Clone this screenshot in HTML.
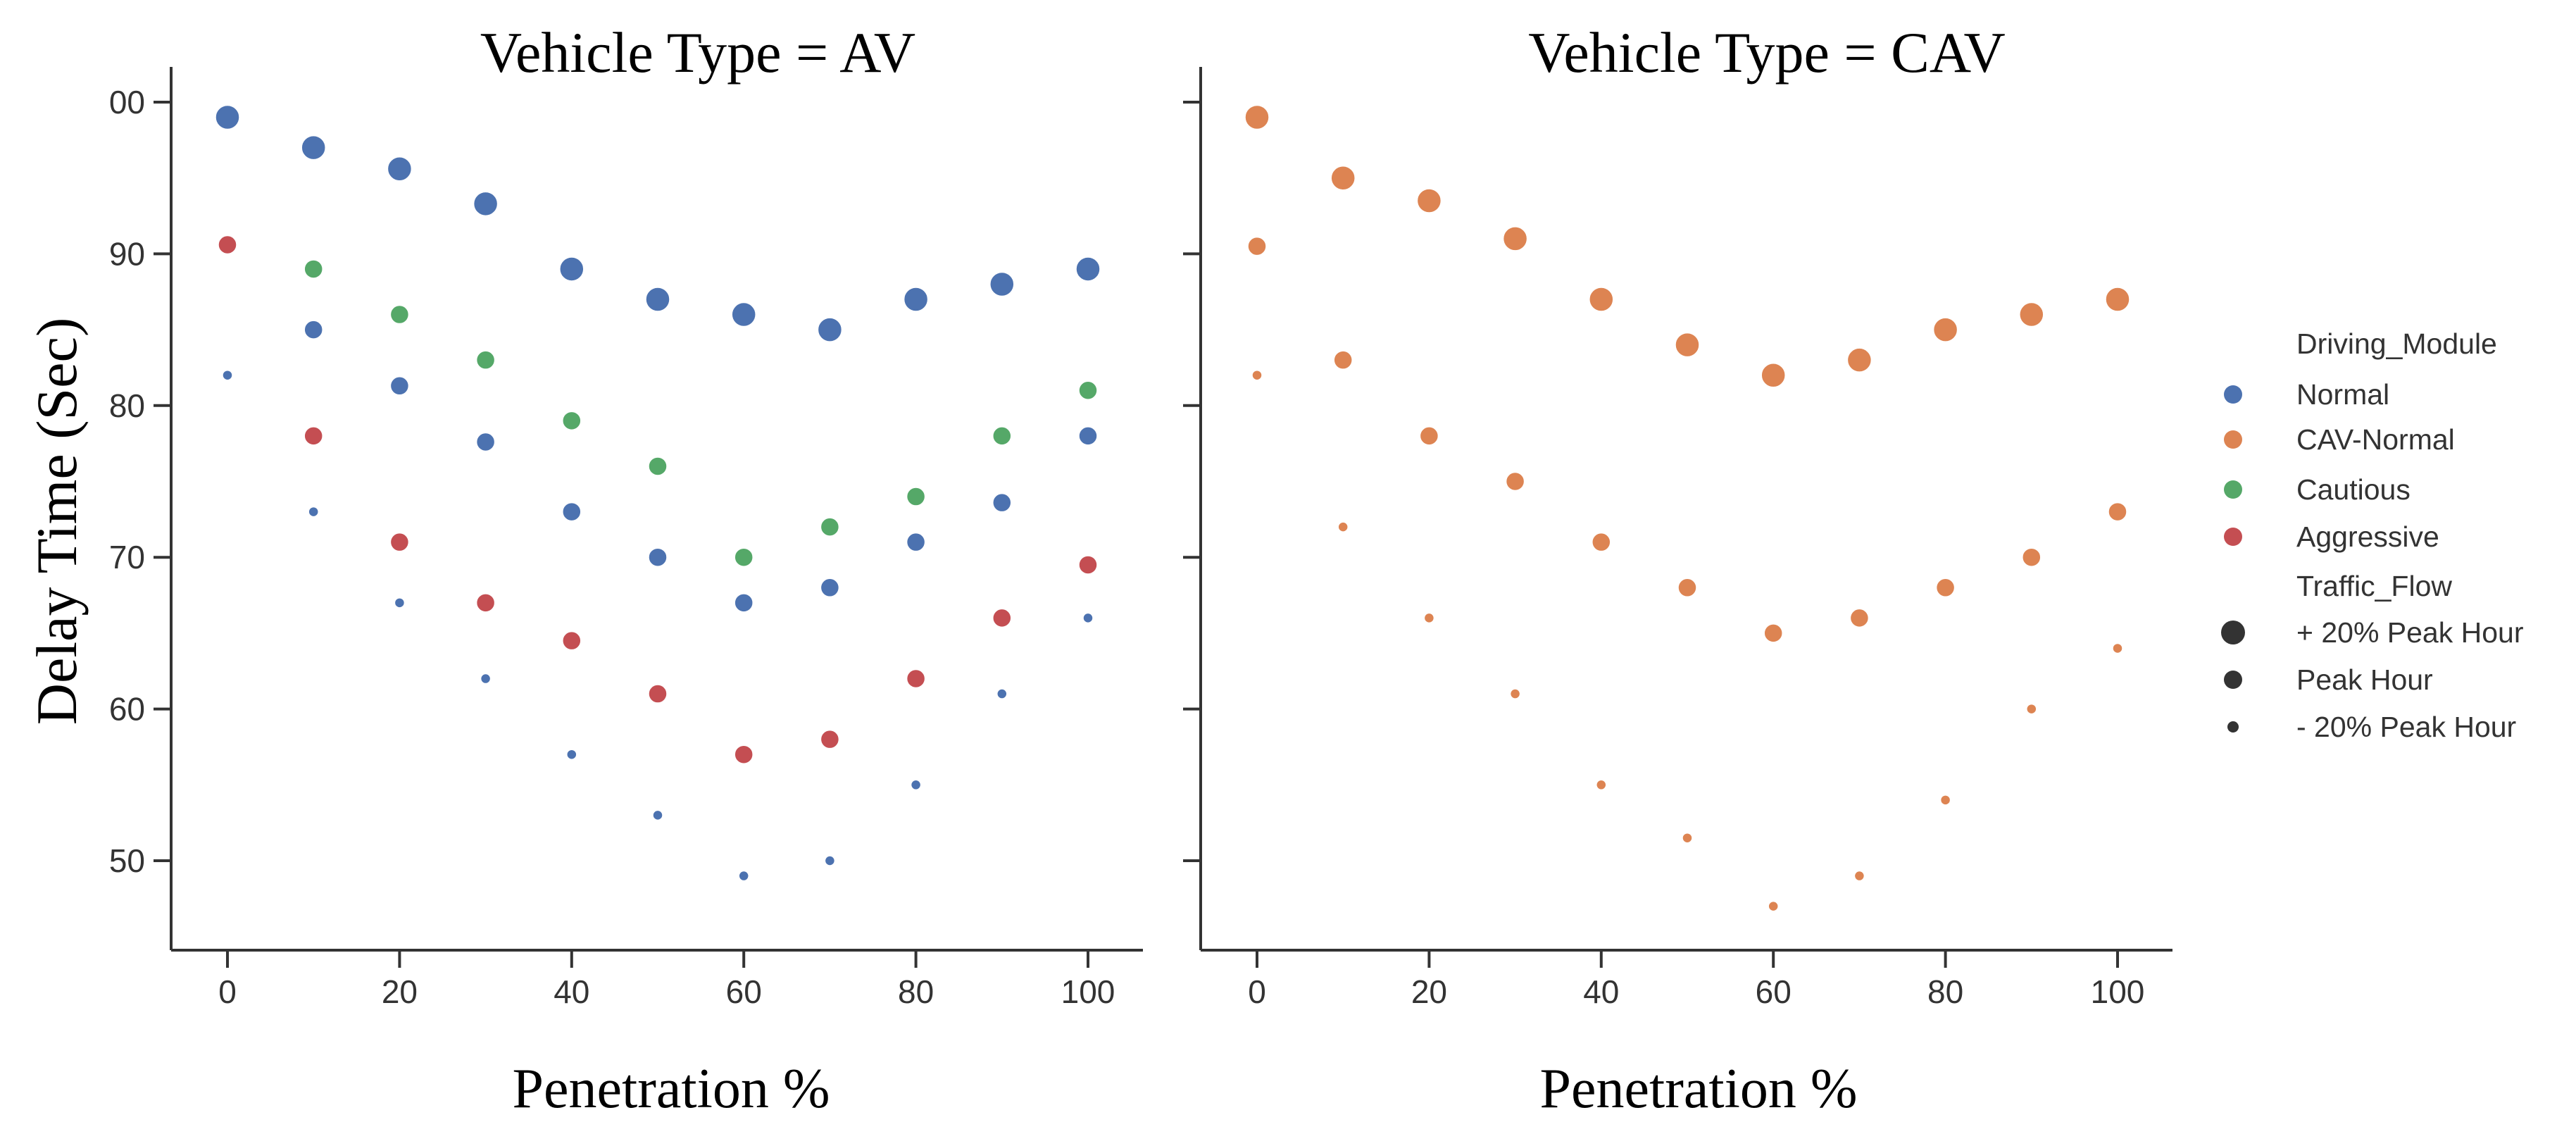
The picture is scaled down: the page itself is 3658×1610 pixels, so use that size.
<!DOCTYPE html>
<html><head><meta charset="utf-8"><style>
html,body{margin:0;padding:0;background:#fff}
svg{display:block}
</style></head><body>
<svg id="chart" width="3658" height="1610" viewBox="0 0 3658 1610">
<g id="axes"></g>
<g id="marks"></g>
<text x="991" y="102" font-family="Liberation Serif, serif" font-size="82" text-anchor="middle" fill="#000">Vehicle Type = AV</text>
<text x="2509" y="102" font-family="Liberation Serif, serif" font-size="82" text-anchor="middle" fill="#000">Vehicle Type = CAV</text>
<text x="953" y="1572" font-family="Liberation Serif, serif" font-size="80" text-anchor="middle" fill="#000">Penetration %</text>
<text x="2412" y="1572" font-family="Liberation Serif, serif" font-size="80" text-anchor="middle" fill="#000">Penetration %</text>
<text transform="translate(108,740) rotate(-90)" font-family="Liberation Serif, serif" font-size="82" text-anchor="middle" fill="#000">Delay Time (Sec)</text>
<g id="legend" font-family="Liberation Sans, sans-serif" font-size="41" fill="#333"></g>
</svg>
<script>
const xVals = [0,10,20,30,40,50,60,70,80,90,100];
const xTicks = [0,20,40,60,80,100];
const yTicks = [50,60,70,80,90,100];
const yTickLabels = ["50","60","70","80","90","00"];
// AV panel
const avNormalPlus = [99,97,95.6,93.3,89,87,86,85,87,88,89];
const avNormalPeakX = [10,20,30,40,50,60,70,80,90,100];
const avNormalPeak = [85,81.3,77.6,73,70,67,68,71,73.6,78];
const avNormalMinus = [82,73,67,62,57,53,49,50,55,61,66];
const avCautiousX = [10,20,30,40,50,60,70,80,90,100];
const avCautious = [89,86,83,79,76,70,72,74,78,81];
const avAggressive = [90.6,78,71,67,64.5,61,57,58,62,66,69.5];
// CAV panel
const cavPlus = [99,95,93.5,91,87,84,82,83,85,86,87];
const cavPeak = [90.5,83,78,75,71,68,65,66,68,70,73];
const cavMinus = [82,72,66,61,55,51.5,47,49,54,60,64];

const NS="http://www.w3.org/2000/svg";
const colors={normal:"#4c72b0",cav:"#dd8452",cautious:"#55a868",aggressive:"#c44e52"};
const radius={plus:17,peak:13,minus:7};
const panels=[{off:0},{off:1462}];
function xScale(v,p){return 323+p.off+(v/100)*1222;}
function yScale(v){return 1222-(v-50)*21.54;}
function el(tag,attrs,parent){const e=document.createElementNS(NS,tag);for(const k in attrs)e.setAttribute(k,attrs[k]);parent.appendChild(e);return e;}
const axes=document.getElementById('axes');
panels.forEach((p,pi)=>{
  const l=el('line',{x1:243+p.off,y1:95,x2:243+p.off,y2:1349,stroke:'#333','stroke-width':4},axes);
  
  
  const b=el('line',{x1:243+p.off,y1:1349,x2:1623+p.off,y2:1349,stroke:'#333','stroke-width':4},axes);
  
  
  xTicks.forEach(t=>{
    const x=xScale(t,p);
    const tk=el('line',{x1:x,y1:1349,x2:x,y2:1374,stroke:'#333','stroke-width':4},axes);
    
    
    const tx=el('text',{x:x,y:1424,'text-anchor':'middle','font-family':'Liberation Sans, sans-serif','font-size':46,fill:'#333'},axes);
    tx.textContent=String(t);
    
    
  });
  yTicks.forEach((t,i)=>{
    const y=yScale(t);
    const tk=el('line',{x1:218+p.off,y1:y,x2:243+p.off,y2:y,stroke:'#333','stroke-width':4},axes);
    
    
    if(pi===0){
      const tx=el('text',{x:206,y:y+16,'text-anchor':'end','font-family':'Liberation Sans, sans-serif','font-size':46,fill:'#333'},axes);
      tx.textContent=yTickLabels[i];
      
      
    }
  });
});
const marks=document.getElementById('marks');
function series(xs,ys,p,color,r,name){
  ys.forEach((v,i)=>{
    const c=el('circle',{cx:xScale(xs[i],p),cy:yScale(v),r:r,fill:color,stroke:'#fff','stroke-width':1.5},marks);
    
    
  });
}
series(xVals,avNormalPlus,panels[0],colors.normal,radius.plus,'point-av-normal-plus20');
series(avNormalPeakX,avNormalPeak,panels[0],colors.normal,radius.peak,'point-av-normal-peak');
series(xVals,avNormalMinus,panels[0],colors.normal,radius.minus,'point-av-normal-minus20');
series(avCautiousX,avCautious,panels[0],colors.cautious,radius.peak,'point-av-cautious-peak');
series(xVals,avAggressive,panels[0],colors.aggressive,radius.peak,'point-av-aggressive-peak');
series(xVals,cavPlus,panels[1],colors.cav,radius.plus,'point-cav-plus20');
series(xVals,cavPeak,panels[1],colors.cav,radius.peak,'point-cav-peak');
series(xVals,cavMinus,panels[1],colors.cav,radius.minus,'point-cav-minus20');

const legend=document.getElementById('legend');
const legRows=[
 {t:'Driving_Module',y:488},
 {t:'Normal',y:560,c:colors.normal,r:13},
 {t:'CAV-Normal',y:624,c:colors.cav,r:13},
 {t:'Cautious',y:695,c:colors.cautious,r:13},
 {t:'Aggressive',y:762,c:colors.aggressive,r:13},
 {t:'Traffic_Flow',y:832},
 {t:'+ 20% Peak Hour',y:898,c:'#333',r:17},
 {t:'Peak Hour',y:965,c:'#333',r:13},
 {t:'- 20% Peak Hour',y:1032,c:'#333',r:8}
];
legRows.forEach(row=>{
  if(row.c){
    const m=el('circle',{cx:3171,cy:row.y,r:row.r,fill:row.c},legend);
    
    
  }
  const t=el('text',{x:3261,y:row.y+14},legend);
  t.textContent=row.t;
  
  
});
</script>
</body></html>
